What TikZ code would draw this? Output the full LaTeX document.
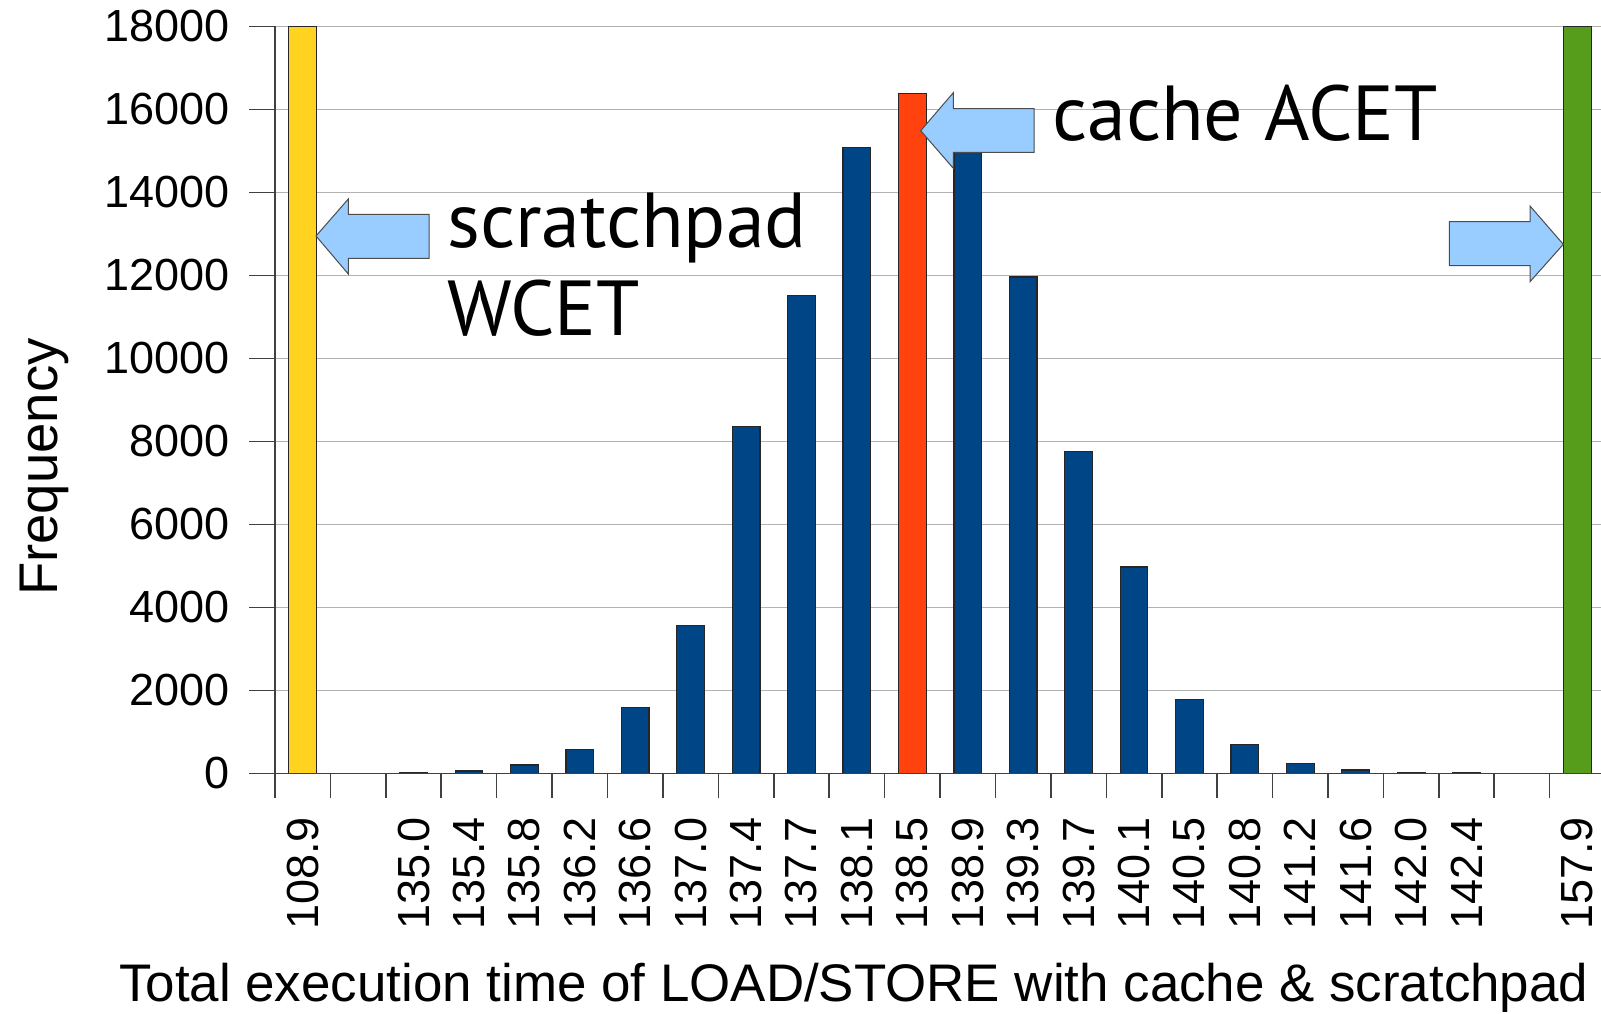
\documentclass[tikz,border=0pt]{standalone}
\usepackage{fontspec}
\setmainfont{Liberation Sans}
\newfontfamily\annotfont{PT Sans}
\definecolor{cblu}{HTML}{004586}
\definecolor{cred}{HTML}{FF420E}
\definecolor{cyel}{HTML}{FFD320}
\definecolor{cgrn}{HTML}{579D1C}
\definecolor{carrow}{HTML}{99CCFF}
\definecolor{cgrid}{HTML}{B3B3B3}
\begin{document}
\begin{tikzpicture}[x=1pt,y=-1pt,
  gridl/.style={draw=cgrid,line width=1.3pt},
  axisl/.style={draw=black!75,line width=1.6pt},
  barbox/.style={draw=black!85,line width=1.2pt},
  callout/.style={fill=carrow,draw=black!70,line width=1pt,line join=miter},
  ylab/.style={anchor=east,inner sep=0pt,font=\fontsize{45}{54}\selectfont},
  xlab/.style={anchor=east,rotate=90,inner sep=0pt,font=\fontsize{45}{54}\selectfont},
  axtitle/.style={inner sep=0pt,font=\fontsize{52.9}{60}\selectfont},
  note/.style={inner sep=0pt,align=left,font=\annotfont\fontsize{78}{88}\selectfont}]
\fill[white] (0,0) rectangle (1601,1013);
\useasboundingbox (0,0) rectangle (1601,1013);
\clip (0,0) rectangle (1601,1013);
\def\yb{773.3}
\def\cw{55.42}
\def\xo{275}
% grid and y ticks
\foreach \k in {0,...,9} {
  \pgfmathsetmacro\yy{\yb-\k*83}
  \pgfmathtruncatemacro\lab{\k*2}
  \ifnum\k>0 \draw[gridl] (\xo,\yy) -- (1601,\yy); \fi
  \draw[axisl] (249,\yy) -- (\xo,\yy);
  \node[ylab] (yl\k) at (230,\yy) {\ifnum\k=0 0\else\lab000\fi};
}
% bars (values in thousands)
\foreach \i/\v/\c in {0/18/cyel,2/0.02/cblu,3/0.055/cblu,4/0.2/cblu,5/0.58/cblu,6/1.58/cblu,
  7/3.57/cblu,8/8.35/cblu,9/11.52/cblu,10/15.08/cblu,11/16.38/cred,12/14.95/cblu,
  13/11.96/cblu,14/7.76/cblu,15/4.97/cblu,16/1.78/cblu,17/0.7/cblu,18/0.24/cblu,
  19/0.08/cblu,20/0.015/cblu,21/0.01/cblu,23/18/cgrn} {
  \pgfmathsetmacro\xa{\xo+\i*\cw+13.85}
  \pgfmathsetmacro\xb{\xa+27.7}
  \pgfmathsetmacro\yt{\yb-\v*41.5}
  \draw[barbox,fill=\c] (\xa,\yb) rectangle (\xb,\yt);
}
% axes
\draw[axisl] (\xo,26.3) -- (\xo,\yb);
\draw[axisl] (249,\yb) -- (1601,\yb);
\foreach \j in {0,...,23} {
  \pgfmathsetmacro\xt{\xo+\j*\cw}
  \draw[axisl] (\xt,\yb) -- (\xt,798);
}
% x labels
\foreach \i/\l in {0/108.9,2/135.0,3/135.4,4/135.8,5/136.2,6/136.6,7/137.0,8/137.4,
  9/137.7,10/138.1,11/138.5,12/138.9,13/139.3,14/139.7,15/140.1,16/140.5,17/140.8,
  18/141.2,19/141.6,20/142.0,21/142.4,23/157.9} {
  \pgfmathsetmacro\xc{\xo+(\i+0.5)*\cw}
  \node[xlab] (xl\i) at (\xc,817) {\l};
}
% callout arrows
\draw[callout] (316,236) -- (348.3,199) -- (348.3,214.3) -- (429,214.3) -- (429,258.3)
  -- (348.3,258.3) -- (348.3,274) -- cycle;
\draw[callout] (920.7,130.7) -- (953.3,92.7) -- (953.3,108.7) -- (1034,108.7) -- (1034,152.3)
  -- (953.3,152.3) -- (953.3,168.3) -- cycle;
\draw[callout] (1563.3,244.3) -- (1530,206) -- (1530,221.7) -- (1449.3,221.7) -- (1449.3,265.7)
  -- (1530,265.7) -- (1530,281.7) -- cycle;
% texts
\node[note,anchor=base west] (scr) at (447,335.3) {scratchpad\\WCET};
\node[note,anchor=base west] (acet) at (1052,140.7) {cache ACET};
\node[axtitle,anchor=base west] (xt) at (119,1001.7) {Total execution time of LOAD/STORE with cache \& scratchpad};
\node[axtitle,anchor=base,rotate=90,font=\fontsize{54.5}{60}\selectfont] (yt) at (57,467) {Frequency};
\end{tikzpicture}
\end{document}
